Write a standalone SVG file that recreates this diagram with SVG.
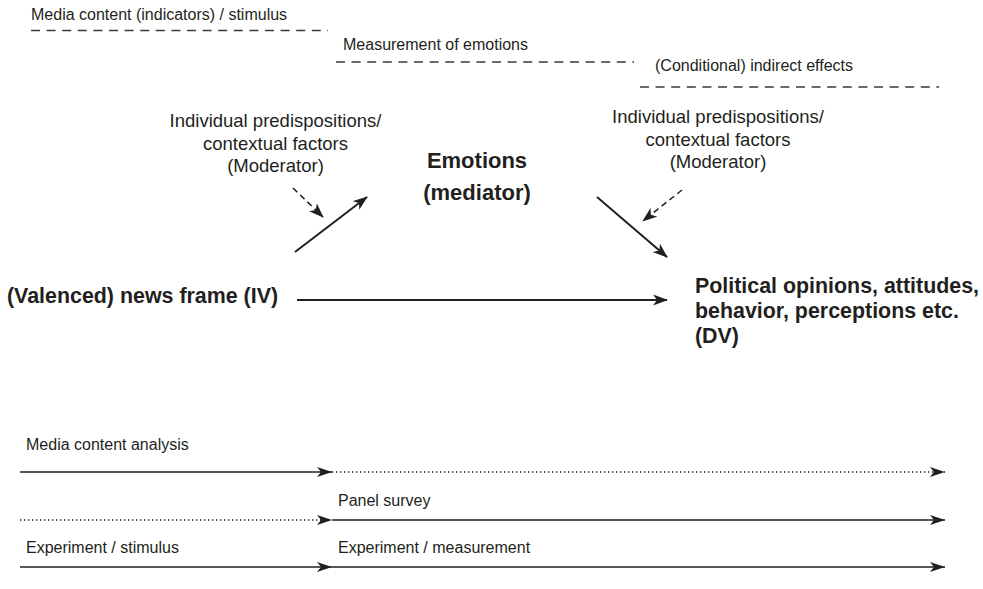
<svg xmlns="http://www.w3.org/2000/svg" width="983" height="589" viewBox="0 0 983 589">
<defs>
<style>
text{font-family:"Liberation Sans",Arial,Helvetica,sans-serif;fill:#231f20}
.lab{font-size:16px}
.mod{font-size:18.5px;text-anchor:middle}
.bold{font-size:21.4px;font-weight:bold}
.med{font-size:22px;font-weight:bold;text-anchor:middle}
.dash{stroke:#3a3a3a;stroke-width:1.3;stroke-dasharray:9 6.6;fill:none}
.arr{stroke:#231f20;stroke-width:2;fill:none;marker-end:url(#ah)}
.darr{stroke:#231f20;stroke-width:1.5;stroke-dasharray:6 4;fill:none;marker-end:url(#ah)}
.sol{stroke:#231f20;stroke-width:1.7;fill:none;marker-end:url(#ah2)}
.dot{stroke:#231f20;stroke-width:1.4;stroke-dasharray:1.3 2.7;fill:none;marker-end:url(#ah2)}
</style>
<marker id="ah" viewBox="0 0 15 11" refX="14" refY="5.5" markerWidth="15" markerHeight="11" markerUnits="userSpaceOnUse" orient="auto">
<path d="M0,0 L15,5.5 L0,11 L4,5.5 Z" fill="#231f20"/>
</marker>
<marker id="ah2" viewBox="0 0 15 10" refX="15" refY="5" markerWidth="15" markerHeight="10" markerUnits="userSpaceOnUse" orient="auto">
<path d="M0,0 L15,5 L0,10 L4,5 Z" fill="#231f20"/>
</marker>
</defs>

<g id="timeline-labels">
<text class="lab" x="31" y="20">Media content (indicators) / stimulus</text>
<line class="dash" x1="31" y1="30.5" x2="328" y2="30.5"/>
<text class="lab" x="343" y="50">Measurement of emotions</text>
<line class="dash" x1="336" y1="62" x2="634" y2="62"/>
<text class="lab" x="655" y="71">(Conditional) indirect effects</text>
<line class="dash" x1="640" y1="87" x2="939" y2="87"/>
</g>

<g id="moderator-1">
<text class="mod" x="275.5" y="127">Individual predispositions/</text>
<text class="mod" x="275.5" y="149.5">contextual factors</text>
<text class="mod" x="275.5" y="172">(Moderator)</text>
</g>

<g id="moderator-2">
<text class="mod" x="718" y="123">Individual predispositions/</text>
<text class="mod" x="718" y="145.5">contextual factors</text>
<text class="mod" x="718" y="168">(Moderator)</text>
</g>

<g id="mediator">
<text class="med" x="477" y="168">Emotions</text>
<text class="med" x="477" y="200">(mediator)</text>
</g>

<g id="iv">
<text class="bold" x="7" y="303">(Valenced) news frame (IV)</text>
</g>

<g id="dv">
<text class="bold" x="695" y="293">Political opinions, attitudes,</text>
<text class="bold" x="695" y="318">behavior, perceptions etc.</text>
<text class="bold" x="695" y="343">(DV)</text>
</g>

<g id="connectors">
<line class="arr" x1="297" y1="300" x2="667" y2="300"/>
<line class="arr" x1="295" y1="252" x2="367" y2="197"/>
<line class="arr" x1="597" y1="197" x2="667" y2="257"/>
<line class="darr" x1="293" y1="188" x2="323" y2="217"/>
<line class="darr" x1="682" y1="190" x2="643" y2="221"/>
</g>

<g id="methods">
<text class="lab" x="26" y="450">Media content analysis</text>
<text class="lab" x="338" y="506">Panel survey</text>
<text class="lab" x="26" y="553">Experiment / stimulus</text>
<text class="lab" x="338" y="553">Experiment / measurement</text>
<line class="sol" x1="20" y1="472" x2="332" y2="472"/>
<line class="dot" x1="332" y1="472" x2="945" y2="472"/>
<line class="dot" x1="20" y1="520" x2="332" y2="520"/>
<line class="sol" x1="332" y1="520" x2="945" y2="520"/>
<line class="sol" x1="20" y1="567" x2="332" y2="567"/>
<line class="sol" x1="332" y1="567" x2="945" y2="567"/>
</g>
</svg>
